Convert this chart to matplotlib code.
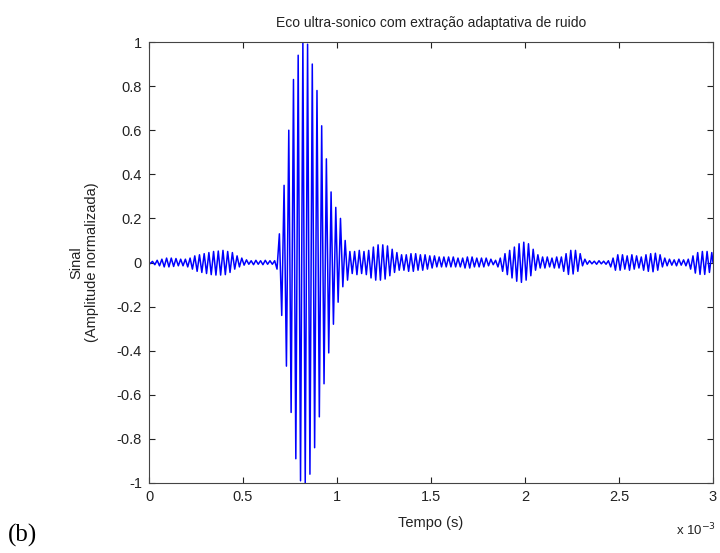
import numpy as np
import matplotlib
matplotlib.use("Agg")
import matplotlib.pyplot as plt
from matplotlib.ticker import FuncFormatter

# one positive and one negative peak per carrier cycle (~40 kHz)
period = 0.025e-3
peak_up = [
    0.005, 0.010, 0.015, 0.020, 0.020, 0.018, 0.015, 0.015, 0.020, 0.030,
    0.035, 0.040, 0.045, 0.050, 0.052, 0.055, 0.050, 0.045, 0.030, 0.020,
    0.012, 0.008, 0.010, 0.008, 0.010, 0.008, 0.008, 0.130, 0.350, 0.600,
    0.830, 0.940, 1.000, 0.990, 0.900, 0.780, 0.620, 0.470, 0.320, 0.250,
    0.200, 0.100, 0.050, 0.050, 0.055, 0.050, 0.055, 0.070, 0.080, 0.080,
    0.075, 0.060, 0.045, 0.035, 0.035, 0.040, 0.040, 0.035, 0.035, 0.030,
    0.030, 0.025, 0.025, 0.025, 0.025, 0.020, 0.020, 0.025, 0.025, 0.020,
    0.020, 0.020, 0.015, 0.010, 0.020, 0.040, 0.055, 0.070, 0.085, 0.092,
    0.085, 0.060, 0.035, 0.025, 0.025, 0.020, 0.025, 0.025, 0.040, 0.055,
    0.055, 0.040, 0.015, 0.008, 0.006, 0.008, 0.006, 0.008, 0.020, 0.035,
    0.035, 0.030, 0.035, 0.030, 0.025, 0.035, 0.040, 0.042, 0.035, 0.020,
    0.015, 0.012, 0.015, 0.012, 0.015, 0.030, 0.045, 0.050, 0.050, 0.045,
]
peak_dn = [
    -0.005, -0.010, -0.015, -0.020, -0.020, -0.018, -0.015, -0.015, -0.020, -0.030,
    -0.040, -0.045, -0.050, -0.055, -0.057, -0.057, -0.055, -0.045, -0.030, -0.020,
    -0.012, -0.008, -0.010, -0.008, -0.010, -0.008, -0.008, -0.030, -0.240, -0.470,
    -0.680, -0.890, -0.990, -1.000, -0.960, -0.840, -0.700, -0.550, -0.410, -0.280,
    -0.180, -0.110, -0.080, -0.050, -0.055, -0.050, -0.055, -0.070, -0.080, -0.080,
    -0.075, -0.060, -0.045, -0.035, -0.035, -0.040, -0.040, -0.035, -0.035, -0.030,
    -0.025, -0.020, -0.020, -0.020, -0.020, -0.020, -0.020, -0.025, -0.025, -0.020,
    -0.020, -0.020, -0.015, -0.010, -0.020, -0.040, -0.055, -0.070, -0.085, -0.090,
    -0.080, -0.060, -0.035, -0.025, -0.025, -0.020, -0.025, -0.025, -0.040, -0.054,
    -0.052, -0.040, -0.015, -0.008, -0.006, -0.008, -0.006, -0.008, -0.020, -0.035,
    -0.035, -0.030, -0.035, -0.030, -0.025, -0.035, -0.040, -0.042, -0.035, -0.020,
    -0.015, -0.012, -0.015, -0.012, -0.015, -0.030, -0.048, -0.054, -0.054, -0.045,
]
xticks = [0, 0.5e-3, 1e-3, 1.5e-3, 2e-3, 2.5e-3, 3e-3]
yticks = [-1, -0.8, -0.6, -0.4, -0.2, 0, 0.2, 0.4, 0.6, 0.8, 1]

t_dn = 0.006e-3 + period * np.arange(len(peak_dn))
t_up = 0.0185e-3 + period * np.arange(len(peak_up))
t = np.concatenate([[0.0], np.column_stack([t_dn, t_up]).ravel(), [3e-3]])
y = np.concatenate([[0.0], np.column_stack([peak_dn, peak_up]).ravel(), [0.0]])

plt.rcParams['font.family'] = ['Liberation Sans', 'DejaVu Sans']

fig = plt.figure(figsize=(7.2, 5.53), dpi=100)
ax = fig.add_axes([149 / 720, 1 - 483 / 553, 564 / 720, 441 / 553])
ax.plot(t, y, color='#0000ff', linewidth=1.1)

ax.set_xlim(0, 3e-3)
ax.set_ylim(-1, 1)
ax.set_xticks(xticks)
ax.set_yticks(yticks)
ax.xaxis.set_major_formatter(FuncFormatter(lambda v, p: f"{v * 1e3:g}"))
ax.yaxis.set_major_formatter(FuncFormatter(lambda v, p: f"{v:g}"))
ax.tick_params(direction='in', length=4, width=0.8, top=True, right=True,
               labelsize=10.5, colors='#222222', pad=5)
for s in ax.spines.values():
    s.set_color('#444444')
    s.set_linewidth(0.8)

ax.set_title("Eco ultra-sonico com extração adaptativa de ruido", fontsize=10,
             color='#222222', pad=11)
ax.set_xlabel("Tempo (s)", fontsize=10.5, color='#222222', labelpad=9)
ax.set_ylabel("Sinal\n(Amplitude normalizada)", fontsize=10.5, color='#222222',
              labelpad=13, linespacing=1.15)
fig.text(716 / 720, 1 - 530 / 553, r"x 10$^{-3}$", fontsize=9.5, color='#222222',
         ha='right', va='center')
fig.text(8 / 720, 1 - 535 / 553, "(b)", fontsize=18, family='Liberation Serif',
         ha='left', va='center')

fig.savefig("out.png", dpi=100)
